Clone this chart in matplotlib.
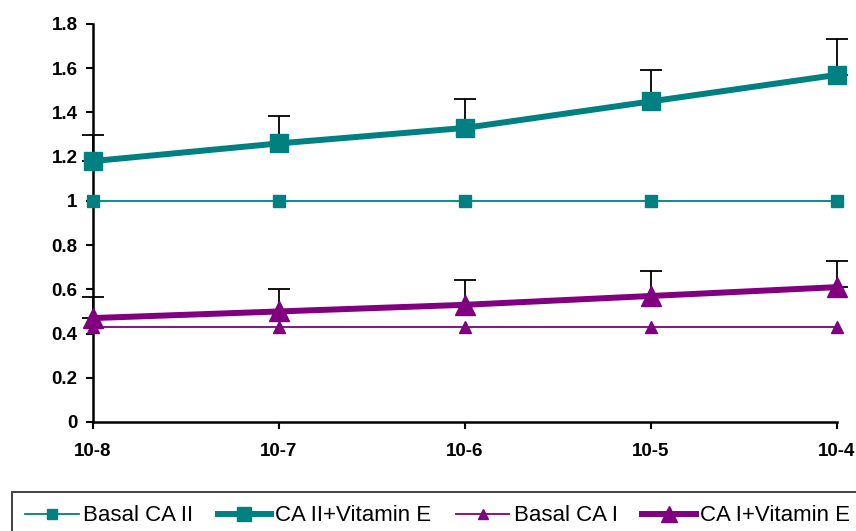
import matplotlib
matplotlib.use("Agg")
import matplotlib.pyplot as plt
import numpy as np

plt.rcParams['font.family'] = ['Liberation Sans', 'DejaVu Sans']

x_labels = ["10-8", "10-7", "10-6", "10-5", "10-4"]
basal_ca2 = [1.0, 1.0, 1.0, 1.0, 1.0]
ca2_vite = [1.18, 1.26, 1.33, 1.45, 1.57]
ca2_err = [0.12, 0.125, 0.13, 0.14, 0.16]
basal_ca1 = [0.43, 0.43, 0.43, 0.43, 0.43]
ca1_vite = [0.47, 0.50, 0.53, 0.57, 0.61]
ca1_err = [0.095, 0.10, 0.11, 0.115, 0.12]

teal = "#008080"
purple = "#800080"

fig = plt.figure(figsize=(8.56, 5.31), dpi=100)
ax = fig.add_axes([93/856, 1-422/531, (837-93)/856, (422-24)/531])
x = np.arange(len(x_labels))

z = np.zeros(len(x))
ax.errorbar(x, ca2_vite, yerr=[z, ca2_err], fmt='none', ecolor='black', elinewidth=1.3,
            capsize=8, capthick=1.3, clip_on=False, zorder=2)
ax.errorbar(x, ca1_vite, yerr=[z, ca1_err], fmt='none', ecolor='black', elinewidth=1.3,
            capsize=8, capthick=1.3, clip_on=False, zorder=2)

ax.plot(x, basal_ca2, color=teal, lw=1.3, marker='s', ms=9, label="Basal CA II",
        clip_on=False, zorder=3)
ax.plot(x, ca2_vite, color=teal, lw=4.3, marker='s', ms=13, label="CA II+Vitamin E",
        clip_on=False, zorder=4)
ax.plot(x, basal_ca1, color=purple, lw=1.3, marker='^', ms=9, label="Basal CA I",
        clip_on=False, zorder=3)
ax.plot(x, ca1_vite, color=purple, lw=4.3, marker='^', ms=15, label="CA I+Vitamin E",
        clip_on=False, zorder=4)

ax.set_xlim(0, 4)
ax.set_ylim(0, 1.8)
ax.set_xticks(x)
ax.set_xticklabels(x_labels)
ax.set_yticks(np.arange(0, 1.81, 0.2))
ax.set_yticklabels(["0", "0.2", "0.4", "0.6", "0.8", "1", "1.2", "1.4", "1.6", "1.8"])
for lab in ax.get_xticklabels() + ax.get_yticklabels():
    lab.set_fontweight('bold')
    lab.set_fontsize(13.5)
ax.tick_params(axis='both', direction='out', length=5, width=1.5, colors='black')
ax.tick_params(axis='x', pad=10)
ax.tick_params(axis='y', pad=6)
for s in ['top', 'right']:
    ax.spines[s].set_visible(False)
for s in ['left', 'bottom']:
    ax.spines[s].set_linewidth(1.8)

leg = fig.legend(loc='upper left', bbox_to_anchor=(12/856, 1-492/531), ncol=4,
                 fontsize=16, frameon=True, fancybox=False, edgecolor='black',
                 handlelength=2.4, handletextpad=0.2, columnspacing=1.1,
                 borderaxespad=0, borderpad=0.6, numpoints=1, markerscale=0.75)
leg.get_frame().set_linewidth(1.3)

fig.savefig("out.png", dpi=100)
